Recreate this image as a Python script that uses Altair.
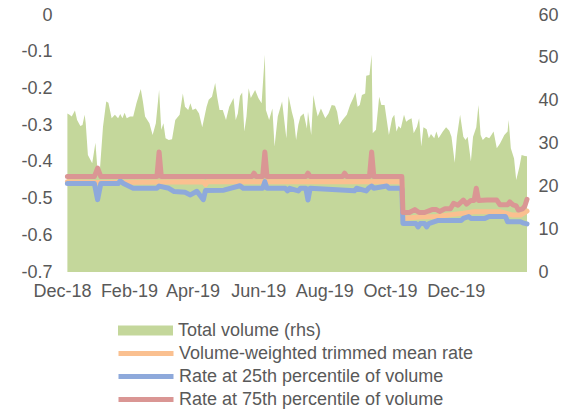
import altair as alt
import pandas as pd

# ---------------- data ----------------
vol_dates = [
    "2018-12-06", "2018-12-08", "2018-12-10", "2018-12-13", "2018-12-15", "2018-12-18", "2018-12-20",
    "2018-12-22", "2018-12-23", "2018-12-25", "2018-12-29", "2019-01-01", "2019-01-03", "2019-01-05",
    "2019-01-08", "2019-01-11", "2019-01-13", "2019-01-16", "2019-01-19", "2019-01-22", "2019-01-24",
    "2019-01-26", "2019-01-28", "2019-01-30", "2019-02-02", "2019-02-05", "2019-02-08", "2019-02-12",
    "2019-02-14", "2019-02-16", "2019-02-20", "2019-02-23", "2019-02-26", "2019-03-01", "2019-03-03",
    "2019-03-05", "2019-03-07", "2019-03-10", "2019-03-13", "2019-03-16", "2019-03-20", "2019-03-23",
    "2019-03-25", "2019-03-28", "2019-03-30", "2019-04-01", "2019-04-04", "2019-04-07", "2019-04-10",
    "2019-04-14", "2019-04-16", "2019-04-19", "2019-04-22", "2019-04-24", "2019-04-26", "2019-04-28",
    "2019-04-29", "2019-05-02", "2019-05-05", "2019-05-09", "2019-05-11", "2019-05-13", "2019-05-15",
    "2019-05-17", "2019-05-19", "2019-05-21", "2019-05-23", "2019-05-25", "2019-05-29", "2019-06-01",
    "2019-06-04", "2019-06-07", "2019-06-08", "2019-06-11", "2019-06-14", "2019-06-16", "2019-06-19",
    "2019-06-23", "2019-06-26", "2019-06-27", "2019-06-29", "2019-07-02", "2019-07-04", "2019-07-06",
    "2019-07-08", "2019-07-10", "2019-07-13", "2019-07-16", "2019-07-17", "2019-07-20", "2019-07-22",
    "2019-07-24", "2019-07-26", "2019-07-29", "2019-08-02", "2019-08-05", "2019-08-08", "2019-08-11",
    "2019-08-13", "2019-08-15", "2019-08-18", "2019-08-22", "2019-08-25", "2019-08-28", "2019-08-30",
    "2019-09-01", "2019-09-03", "2019-09-05", "2019-09-08", "2019-09-09", "2019-09-12", "2019-09-14",
    "2019-09-15", "2019-09-18", "2019-09-21", "2019-09-23", "2019-09-26", "2019-09-30", "2019-10-03",
    "2019-10-05", "2019-10-07", "2019-10-09", "2019-10-11", "2019-10-14", "2019-10-16", "2019-10-18",
    "2019-10-21", "2019-10-23", "2019-10-26", "2019-10-28", "2019-10-30", "2019-11-01", "2019-11-04",
    "2019-11-06", "2019-11-08", "2019-11-11", "2019-11-13", "2019-11-15", "2019-11-19", "2019-11-22",
    "2019-11-25", "2019-11-27", "2019-11-30", "2019-12-02", "2019-12-05", "2019-12-08", "2019-12-10",
    "2019-12-12", "2019-12-15", "2019-12-17", "2019-12-20", "2019-12-22", "2019-12-24", "2019-12-26",
    "2019-12-29", "2020-01-01", "2020-01-03", "2020-01-05", "2020-01-08", "2020-01-11", "2020-01-15",
    "2020-01-18", "2020-01-19", "2020-01-21", "2020-01-24", "2020-01-26", "2020-01-29", "2020-01-31",
    "2020-02-03", "2020-02-05",
]
vol_values = [
    37.0, 36.7, 36.3, 37.7, 35.5, 34.1, 34.3,
    36.7, 34.7, 27.3, 25.4, 30.2, 23.4, 23.4,
    33.9, 39.8, 39.5, 35.9, 36.7, 35.9, 36.9,
    35.9, 37.2, 35.9, 36.3, 36.3, 39.4, 42.7,
    39.8, 36.3, 34.7, 32.0, 34.7, 42.5, 33.2,
    34.7, 31.2, 30.8, 31.0, 35.5, 36.7, 41.7,
    38.6, 37.8, 39.4, 37.8, 38.2, 37.0, 33.8,
    38.6, 40.2, 40.9, 44.1, 40.6, 37.8, 37.8,
    37.8, 35.5, 38.6, 40.6, 35.5, 37.0, 41.1,
    41.9, 32.8, 36.3, 42.9, 40.6, 42.5, 40.6,
    39.4, 50.7, 37.8, 35.5, 38.2, 29.3, 36.3,
    39.8, 33.2, 31.2, 41.1, 37.4, 35.5, 30.8,
    34.3, 36.3, 37.0, 33.5, 37.4, 32.0, 41.3,
    38.6, 36.3, 38.2, 35.9, 37.0, 39.0, 38.8,
    37.4, 34.3, 35.5, 36.7, 39.0, 40.6, 41.9,
    38.6, 39.0, 41.3, 41.7, 45.8, 46.0, 50.7,
    32.4, 33.2, 40.9, 39.0, 39.0, 32.0, 35.9,
    36.7, 32.8, 34.1, 33.5, 36.7, 35.1, 35.5,
    35.9, 32.4, 33.9, 35.9, 29.3, 33.8, 33.3,
    31.2, 32.2, 31.2, 32.8, 31.2, 32.8, 33.8,
    33.0, 31.6, 25.5, 31.6, 36.7, 31.6, 30.8,
    31.6, 25.8, 31.6, 33.8, 39.0, 32.0, 30.8,
    31.6, 31.2, 32.0, 32.8, 28.9, 30.0, 32.0,
    32.8, 35.5, 28.9, 26.5, 21.5, 24.6, 27.3,
    27.1, 27.0,
]

mean_dates = [
    "2018-12-06", "2019-01-03", "2019-04-11", "2019-04-13", "2019-04-15", "2019-10-12", "2019-10-13",
    "2019-10-28", "2019-11-13", "2019-11-29", "2019-12-08", "2019-12-18", "2020-01-11", "2020-01-23",
    "2020-01-30", "2020-02-05",
]
mean_rates = [
    -0.454, -0.456, -0.454, -0.462, -0.454, -0.454, -0.554,
    -0.550, -0.549, -0.543, -0.540, -0.536, -0.536, -0.545,
    -0.545, -0.534,
]

p25_dates = [
    "2018-12-06", "2018-12-31", "2019-01-03", "2019-01-06", "2019-01-22", "2019-01-24", "2019-01-27",
    "2019-02-05", "2019-02-27", "2019-03-01", "2019-03-10", "2019-03-15", "2019-03-25", "2019-03-30",
    "2019-04-05", "2019-04-11", "2019-04-13", "2019-04-30", "2019-05-06", "2019-05-15", "2019-05-18",
    "2019-06-05", "2019-06-07", "2019-06-09", "2019-06-26", "2019-06-28", "2019-06-30", "2019-07-08",
    "2019-07-10", "2019-07-15", "2019-07-17", "2019-07-19", "2019-08-29", "2019-08-31", "2019-09-09",
    "2019-09-11", "2019-09-14", "2019-09-16", "2019-09-28", "2019-09-30", "2019-10-12", "2019-10-13",
    "2019-10-25", "2019-10-27", "2019-10-29", "2019-11-02", "2019-11-04", "2019-11-06", "2019-11-14",
    "2019-12-06", "2019-12-08", "2019-12-13", "2019-12-15", "2019-12-28", "2020-01-01", "2020-01-16",
    "2020-01-18", "2020-01-30", "2020-02-02", "2020-02-05",
]
p25_rates = [
    -0.459, -0.459, -0.503, -0.459, -0.459, -0.452, -0.459,
    -0.472, -0.472, -0.466, -0.472, -0.481, -0.483, -0.490,
    -0.480, -0.503, -0.478, -0.477, -0.472, -0.465, -0.472,
    -0.472, -0.454, -0.472, -0.472, -0.479, -0.472, -0.479,
    -0.472, -0.472, -0.504, -0.472, -0.479, -0.472, -0.479,
    -0.472, -0.466, -0.472, -0.466, -0.472, -0.472, -0.568,
    -0.568, -0.577, -0.568, -0.568, -0.577, -0.568, -0.560,
    -0.560, -0.554, -0.549, -0.554, -0.554, -0.549, -0.549,
    -0.563, -0.563, -0.567, -0.569,
]

p75_dates = [
    "2018-12-06", "2018-12-31", "2019-01-03", "2019-01-06", "2019-02-27", "2019-03-01", "2019-03-03",
    "2019-05-26", "2019-05-28", "2019-05-30", "2019-06-05", "2019-06-07", "2019-06-09", "2019-07-15",
    "2019-07-17", "2019-07-19", "2019-08-18", "2019-08-20", "2019-08-22", "2019-09-12", "2019-09-14",
    "2019-09-16", "2019-10-12", "2019-10-13", "2019-10-19", "2019-10-24", "2019-10-28", "2019-11-02",
    "2019-11-09", "2019-11-13", "2019-11-16", "2019-11-21", "2019-11-26", "2019-11-29", "2019-12-03",
    "2019-12-08", "2019-12-11", "2019-12-15", "2019-12-18", "2019-12-20", "2019-12-22", "2019-12-30",
    "2020-01-08", "2020-01-11", "2020-01-18", "2020-01-20", "2020-01-23", "2020-01-26", "2020-01-28",
    "2020-02-01", "2020-02-03", "2020-02-05",
]
p75_rates = [
    -0.440, -0.440, -0.417, -0.440, -0.440, -0.373, -0.440,
    -0.440, -0.431, -0.440, -0.440, -0.373, -0.440, -0.440,
    -0.431, -0.440, -0.440, -0.431, -0.440, -0.440, -0.373,
    -0.440, -0.440, -0.538, -0.538, -0.530, -0.538, -0.538,
    -0.530, -0.530, -0.535, -0.528, -0.528, -0.513, -0.518,
    -0.504, -0.515, -0.505, -0.505, -0.472, -0.505, -0.504,
    -0.504, -0.517, -0.517, -0.509, -0.517, -0.520, -0.531,
    -0.528, -0.520, -0.502,
]

AREA_NAME = "Total volume (rhs)"
MEAN_NAME = "Volume-weighted trimmed mean rate"
P25_NAME = "Rate at 25th percentile of volume"
P75_NAME = "Rate at 75th percentile of volume"

left_ticks = [0, -0.1, -0.2, -0.3, -0.4, -0.5, -0.6, -0.7]
right_ticks = [0, 10, 20, 30, 40, 50, 60]
x_tick_months = [(2018, 12), (2019, 2), (2019, 4), (2019, 6), (2019, 8), (2019, 10), (2019, 12)]

GREEN = "#C4D79B"
ORANGE = "#FAC090"
BLUE = "#8EA9DB"
RED = "#DA9694"
TEXT = "#595959"
FONT = "Liberation Sans"
FS = 18

vol_df = pd.DataFrame({"date": pd.to_datetime(vol_dates), "volume": vol_values, "series": AREA_NAME})
lines_df = pd.concat([
    pd.DataFrame({"date": pd.to_datetime(mean_dates), "rate": mean_rates, "series": MEAN_NAME, "k": 0}),
    pd.DataFrame({"date": pd.to_datetime(p25_dates), "rate": p25_rates, "series": P25_NAME, "k": 1}),
    pd.DataFrame({"date": pd.to_datetime(p75_dates), "rate": p75_rates, "series": P75_NAME, "k": 2}),
], ignore_index=True)

x_scale = alt.Scale(domain=[alt.DateTime(year=2018, month=12, date=1),
                            alt.DateTime(year=2020, month=2, date=5)])
x_axis = alt.Axis(
    values=[alt.DateTime(year=y, month=m, date=1) for y, m in x_tick_months],
    format="%b-%y", labelFlush=False, labelOverlap=False, ticks=False, domain=False,
    grid=False, labelPadding=10, title=None,
)

area = alt.Chart(vol_df).mark_area(opacity=1, interpolate="linear").encode(
    x=alt.X("date:T", scale=x_scale, axis=x_axis),
    y=alt.Y("volume:Q", scale=alt.Scale(domain=[0, 60], nice=False),
            axis=alt.Axis(orient="right", values=right_ticks, ticks=False, domain=False,
                          grid=False, labelPadding=11, title=None)),
    fill=alt.Fill("series:N", scale=alt.Scale(domain=[AREA_NAME], range=[GREEN]),
                  legend=alt.Legend(title=None, orient="none", legendX=56, legendY=304,
                                    symbolType="M-1,-0.18H1V0.18H-1Z", symbolSize=3025,
                                    symbolStrokeWidth=0, symbolOpacity=1, clipHeight=23,
                                    rowPadding=0, labelOffset=5, padding=0)),
)

lines = alt.Chart(lines_df).mark_line(strokeWidth=5, strokeCap="round", strokeJoin="round").encode(
    x=alt.X("date:T", scale=x_scale, axis=x_axis),
    y=alt.Y("rate:Q", scale=alt.Scale(domain=[-0.7, 0], nice=False),
            axis=alt.Axis(orient="left", values=left_ticks, ticks=False, domain=False, grid=False,
                          labelPadding=10, title=None,
                          labelExpr="replace(format(datum.value, '.1~f'), '\u2212', '-')")),
    stroke=alt.Stroke("series:N",
                      scale=alt.Scale(domain=[MEAN_NAME, P25_NAME, P75_NAME], range=[ORANGE, BLUE, RED]),
                      legend=alt.Legend(title=None, orient="none", legendX=54, legendY=327,
                                        symbolType="stroke", symbolSize=3025, symbolStrokeWidth=5,
                                        clipHeight=23, rowPadding=0, labelOffset=3, padding=0)),
    order=alt.Order("k:Q"),
)

chart = alt.layer(area, lines).resolve_scale(
    y="independent", fill="independent", stroke="independent"
).properties(
    width=465, height=257,
    autosize=alt.AutoSizeParams(type="none"),
    padding={"left": 54, "top": 7, "right": 32, "bottom": 137},
).configure_view(stroke=None).configure_axis(
    labelFont=FONT, labelFontSize=FS, labelColor=TEXT,
).configure_legend(
    labelFont=FONT, labelFontSize=FS, labelColor=TEXT, labelLimit=0,
)

chart.save("out.html", embed_options={"renderer": "svg", "actions": False})
